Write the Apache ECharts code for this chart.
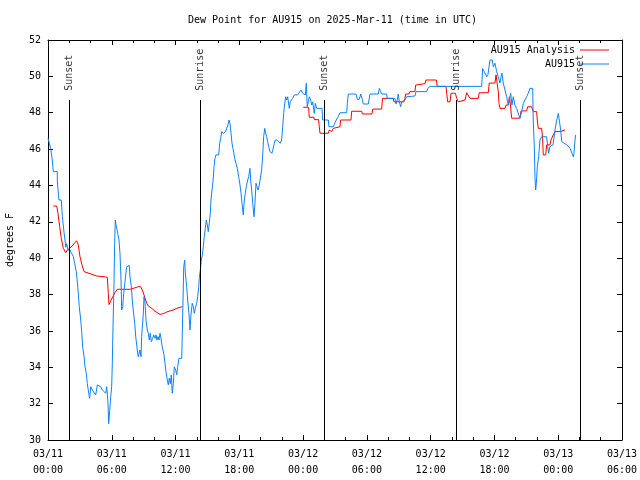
<!DOCTYPE html>
<html>
<head>
<meta charset="utf-8">
<script src="https://cdn.jsdelivr.net/npm/echarts@6/dist/echarts.min.js"></script>
<style>html,body{margin:0;padding:0;background:#fff}#c{width:640px;height:480px}</style>
</head>
<body>
<div id="c"></div>
<script>
// hours since 2025-03-11 00:00 UTC
var xTickLabels = ["03/11\n00:00","03/11\n06:00","03/11\n12:00","03/11\n18:00","03/12\n00:00","03/12\n06:00","03/12\n12:00","03/12\n18:00","03/13\n00:00","03/13\n06:00"];

var blueTimes = [0,0.25,0.40,0.50,0.87,0.88,1.03,1.13,1.25,1.35,1.51,1.60,1.67,1.76,1.88,2.07,2.19,2.38,2.51,2.66,2.76,2.85,2.94,3.08,3.17,3.26,3.39,3.48,3.60,3.70,3.83,3.92,4.02,4.17,4.33,4.49,4.64,4.80,4.96,5.11,5.27,5.43,5.52,5.64,5.71,5.80,5.90,5.99,6.05,6.11,6.21,6.27,6.33,6.40,6.46,6.56,6.68,6.77,6.87,6.93,7.03,7.12,7.22,7.31,7.40,7.53,7.65,7.71,7.84,7.93,8.02,8.16,8.25,8.40,8.49,8.59,8.65,8.75,8.81,8.97,9.03,9.10,9.15,9.22,9.34,9.44,9.53,9.62,9.72,9.85,9.94,10.07,10.16,10.25,10.35,10.44,10.54,10.63,10.72,10.82,10.91,11.01,11.10,11.22,11.32,11.41,11.51,11.60,11.69,11.79,11.88,12.01,12.11,12.20,12.32,12.58,12.67,12.77,12.86,12.92,13.05,13.14,13.26,13.36,13.45,13.57,13.67,13.76,13.86,13.99,14.08,14.18,14.23,14.33,14.42,14.52,14.61,14.70,14.80,14.89,14.99,15.08,15.17,15.27,15.33,15.43,15.52,15.62,15.71,15.80,16.06,16.15,16.25,16.34,16.43,16.53,16.62,16.72,16.81,16.93,17.03,17.12,17.22,17.31,17.43,17.56,17.69,17.81,17.94,18.06,18.16,18.25,18.37,18.47,18.56,18.65,18.79,18.88,19.00,19.07,19.16,19.26,19.38,19.47,19.57,19.66,19.76,19.88,20.01,20.10,20.20,20.29,20.39,20.48,20.57,20.67,20.76,20.88,21.07,21.19,21.29,21.38,21.57,21.70,21.85,21.98,22.08,22.17,22.27,22.36,22.46,22.55,22.64,22.70,22.79,22.89,23.02,23.17,23.33,23.49,23.64,23.80,23.96,24.11,24.21,24.30,24.39,24.49,24.58,24.71,24.81,24.90,25.05,25.15,25.28,25.78,25.84,25.96,26.37,26.43,26.84,27.00,27.16,27.31,27.47,28.10,28.16,28.25,28.97,29.10,29.29,29.42,29.57,29.66,30.13,30.29,31.07,31.17,31.30,31.39,31.86,31.92,32.64,32.74,32.86,32.95,33.05,33.18,33.27,33.42,33.58,33.74,33.89,34.52,34.62,35.63,35.72,35.94,40.80,40.89,41.04,41.27,41.39,41.58,41.80,41.89,42.05,42.21,42.36,42.52,42.62,42.71,42.83,42.99,43.15,43.30,43.46,43.53,43.65,43.77,43.93,44.09,44.28,44.40,44.56,44.71,44.87,45.03,45.18,45.34,45.60,45.65,45.75,45.81,45.88,45.94,46.03,46.16,46.28,46.44,46.91,47.01,47.10,47.22,47.38,47.51,47.70,47.86,48.01,48.17,48.23,48.33,48.48,48.80,49.11,49.27,49.42,49.48,49.58,49.64];
var blueValues = [46.6,46.04,45.4,44.76,44.76,44.2,43.2,43.3,43.2,42.3,41.4,41.0,40.6,40.8,40.45,40.45,40.3,40.1,39.7,39.25,38.7,38.07,37.33,36.6,35.96,35.13,34.6,34.03,33.67,33.1,32.57,32.29,32.93,32.75,32.66,32.48,33.03,33.1,32.93,32.75,32.66,32.57,32.93,32.1,30.9,31.55,32.38,32.93,34.2,36.05,38.6,40.8,42.1,41.83,41.9,41.37,41.0,40.27,38.8,37.15,37.33,38.07,38.6,39.07,39.53,39.6,39.6,38.98,38.43,37.7,37.15,36.42,35.69,34.95,34.58,34.49,34.95,34.58,35.69,36.97,37.88,37.7,37.33,36.6,36.05,35.87,35.5,35.87,35.41,35.59,35.78,35.59,35.78,35.5,35.69,35.5,35.87,35.59,35.22,34.95,34.68,34.2,33.76,33.3,33.03,33.4,33.1,33.58,32.57,33.1,34.03,33.85,33.58,34.03,34.49,34.49,36.88,39.53,39.9,39.17,38.43,37.7,36.97,36.05,36.88,37.52,37.33,36.97,37.24,37.52,37.88,38.43,38.89,39.35,39.9,40.18,40.63,41.18,41.64,42.1,41.83,41.46,41.92,42.47,43.2,43.75,44.2,45.03,45.49,45.68,45.68,46.32,46.6,46.96,47.05,46.87,46.78,46.96,47.14,47.33,47.6,47.42,46.87,46.32,45.95,45.49,45.21,44.94,44.48,44.03,43.57,43.02,42.38,43.2,43.57,43.93,44.3,44.48,44.94,44.3,43.75,43.02,42.28,43.02,44.12,43.93,43.75,44.03,44.12,44.85,45.68,46.68,47.14,46.87,46.68,46.41,46.14,45.86,45.77,46.05,46.32,46.5,46.5,46.41,46.32,46.5,47.23,47.96,48.51,48.88,48.7,48.88,48.98,48.24,48.6,48.7,48.79,48.98,49.07,48.98,49.07,49.25,49.07,49.16,48.98,49.62,48.33,48.6,48.88,48.7,48.42,48.6,47.96,48.51,48.24,48.24,47.6,47.6,47.6,47.23,47.23,47.45,47.65,47.79,48.0,48.0,48.51,49.03,49.03,48.74,48.74,49.03,48.74,48.48,48.48,49.03,49.03,49.34,49.16,49.03,49.03,48.79,48.79,48.48,48.7,49.03,48.6,48.33,48.6,48.6,48.7,48.88,48.92,48.92,49.16,49.16,49.34,49.45,49.45,50.43,50.26,49.98,50.1,50.9,50.9,50.53,50.72,50.26,50.17,49.63,49.98,50.17,49.63,49.25,48.88,48.42,48.88,49.07,48.42,48.88,48.42,48.24,47.88,47.7,48.06,48.5,48.7,48.88,49.07,49.34,49.34,47.6,46.14,44.48,43.75,44.12,45.03,45.58,46.5,46.68,46.68,46.14,45.77,46.14,46.23,46.23,47.05,47.6,47.96,47.9,47.05,46.41,46.32,46.23,46.05,45.95,45.58,45.77,46.5,46.78];

var redTimes = [0.50,0.82,0.94,1.10,1.25,1.44,1.67,1.82,1.98,2.29,2.51,2.70,2.85,3.01,3.20,3.39,3.55,3.95,4.33,4.58,4.70,5.27,5.58,5.67,5.74,5.90,6.09,6.30,6.52,7.71,8.02,8.49,8.72,8.91,9.13,9.29,9.44,9.76,10.07,10.54,10.85,11.17,11.48,11.79,12.11,12.42,12.65,18.0,24.02,24.52,24.58,25.02,25.05,25.45,25.52,25.59,26.37,26.46,26.69,26.84,27.00,27.47,27.53,28.50,28.57,29.51,29.58,30.48,30.55,31.39,31.47,32.48,32.55,33.49,33.58,33.65,33.96,34.05,34.52,34.59,35.47,35.56,36.53,36.62,37.44,37.51,37.60,37.82,37.91,38.13,38.22,38.33,38.45,38.60,38.76,39.23,39.39,39.54,39.70,40.48,40.57,41.42,41.51,42.05,42.15,42.31,42.36,42.43,42.52,42.99,43.09,43.32,43.40,43.46,43.62,44.40,44.50,45.03,45.13,45.50,45.65,45.97,46.03,46.12,46.44,46.53,46.59,46.82,46.91,47.22,47.32,47.48,47.53,47.70,48.17,48.33,48.64];
var redValues = [42.87,42.87,42.47,41.73,41.09,40.54,40.3,40.45,40.54,40.67,40.85,40.95,40.73,40.08,39.63,39.26,39.15,39.15,39.07,39.02,38.95,38.98,38.95,38.07,37.45,37.52,37.88,38.1,38.29,38.29,38.34,38.43,38.43,38.2,37.8,37.52,37.37,37.24,37.08,36.91,36.95,37.04,37.1,37.15,37.24,37.3,37.33,null,48.3,48.3,47.75,47.75,47.62,47.62,47.23,46.87,46.87,47.05,46.96,47.14,47.23,47.23,47.6,47.6,48.08,48.08,47.93,47.93,48.2,48.2,48.79,48.79,48.6,48.6,48.79,49.03,49.03,49.16,49.16,49.52,49.6,49.8,49.8,49.45,49.45,49.07,48.6,48.6,49.07,49.07,49.16,49.07,48.79,48.6,48.7,48.7,49.1,49.1,48.79,48.79,49.1,49.1,49.63,49.63,50.08,50.08,49.16,48.5,48.24,48.24,48.42,48.42,48.88,48.7,47.7,47.7,48.1,48.1,48.33,48.33,48.06,48.06,47.6,47.14,47.14,46.6,45.68,45.68,46.23,46.23,46.5,46.5,46.78,46.96,46.96,47.05,47.05];

var eventHours = [2.0, 14.33, 26.0, 38.38, 50.08];
var eventNames = ["Sunset", "Sunrise", "Sunset", "Sunrise", "Sunset"];

var FONT = "DejaVu Sans Mono";
var RED = '#ff0000', BLUE = '#0a84ff';
function zip(t, v) { return t.map(function (x, i) { return [x, v[i]]; }); }

var chart = echarts.init(document.getElementById('c'), null, {renderer: 'canvas'});
var xCommon = {
  type: 'value', min: 0, max: 54, interval: 6,
  axisLine: {show: true, onZero: false, lineStyle: {color: '#000', width: 1}},
  axisTick: {show: true, inside: true, length: 5, lineStyle: {color: '#000'}},
  minorTick: {show: true, splitNumber: 3, length: 3, lineStyle: {color: '#000'}},
  splitLine: {show: false}
};
var yCommon = {
  type: 'value', min: 30, max: 52, interval: 2,
  axisLine: {show: true, onZero: false, lineStyle: {color: '#000', width: 1}},
  axisTick: {show: true, inside: true, length: 5, lineStyle: {color: '#000'}},
  splitLine: {show: false}
};
var option = {
  animation: false,
  backgroundColor: '#fff',
  textStyle: {fontFamily: FONT},
  title: {
    text: 'Dew Point for AU915 on 2025-Mar-11 (time in UTC)',
    left: 188, top: 15, padding: 0,
    textStyle: {fontFamily: FONT, fontSize: 10, fontWeight: 'normal', color: '#000'}
  },
  legend: {
    data: [
      {name: 'AU915 Analysis', icon: 'rect', itemStyle: {color: RED}},
      {name: 'AU915', icon: 'rect', itemStyle: {color: BLUE}}
    ],
    orient: 'vertical', right: 31, top: 44, align: 'right',
    itemWidth: 29, itemHeight: 1, itemGap: 2, padding: 0,
    textStyle: {fontFamily: FONT, fontSize: 10, color: '#000', lineHeight: 12}
  },
  grid: {left: 48, right: 18, top: 40, bottom: 40, containLabel: false, outerBoundsMode: 'none'},
  xAxis: [
    Object.assign({}, xCommon, {
      position: 'bottom',
      axisLabel: {
        show: true, margin: 6, color: '#000', fontFamily: FONT, fontSize: 10, lineHeight: 16,
        formatter: function (v) { return xTickLabels[Math.round(v / 6)]; }
      }
    }),
    Object.assign({}, xCommon, {position: 'top', axisLabel: {show: false}})
  ],
  yAxis: [
    Object.assign({}, yCommon, {
      position: 'left',
      name: 'degrees F', nameLocation: 'middle', nameRotate: 90, nameGap: 33,
      nameTextStyle: {fontFamily: FONT, fontSize: 10, color: '#000'},
      axisLabel: {show: true, margin: 7, color: '#000', fontFamily: FONT, fontSize: 10}
    }),
    Object.assign({}, yCommon, {position: 'right', axisLabel: {show: false}})
  ],
  series: [
    {
      name: 'AU915 Analysis', type: 'line', xAxisIndex: 0, yAxisIndex: 0,
      data: zip(redTimes, redValues), symbol: 'none', showSymbol: false, connectNulls: false,
      lineStyle: {color: RED, width: 1}, itemStyle: {color: RED}, z: 3
    },
    {
      name: 'AU915', type: 'line', xAxisIndex: 0, yAxisIndex: 0,
      data: zip(blueTimes, blueValues), symbol: 'none', showSymbol: false,
      lineStyle: {color: BLUE, width: 1}, itemStyle: {color: BLUE}, z: 4,
      markLine: {
        silent: true, symbol: 'none', animation: false,
        lineStyle: {color: '#000', width: 1, type: 'solid'},
        label: {show: false},
        data: eventHours.map(function (h) { return [{coord: [h, 30]}, {coord: [h, 48.7]}]; })
      }
    },
    {
      name: 'events', type: 'scatter', xAxisIndex: 0, yAxisIndex: 0,
      symbolSize: 0, silent: true,
      data: eventHours.map(function (h, i) { return [h, 49.15, eventNames[i]]; }),
      label: {
        show: true, position: 'inside', rotate: 90, align: 'left', verticalAlign: 'middle',
        offset: [1, 0],
        color: '#000', fontFamily: FONT, fontSize: 10,
        formatter: function (p) { return p.value[2]; }
      },
      z: 5
    }
  ]
};
chart.setOption(option);
</script>
</body>
</html>
